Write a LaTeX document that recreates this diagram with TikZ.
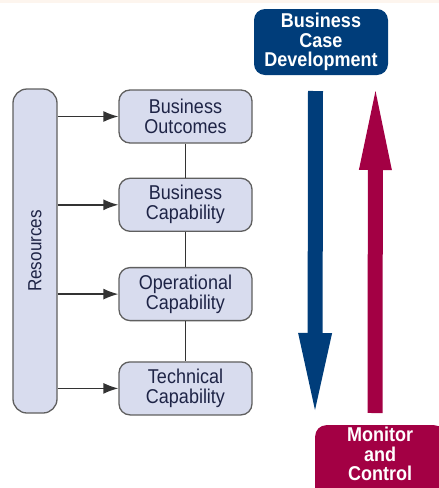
\documentclass[tikz,border=0pt]{standalone}
\usepackage{fontspec}
\setmainfont{Liberation Sans}[FakeStretch=0.9]
\usepackage{tikz}
\usetikzlibrary{arrows.meta,positioning,calc}
\definecolor{casebl}{RGB}{0,61,122}
\definecolor{ctrlred}{RGB}{163,0,68}
\definecolor{boxfill}{RGB}{216,220,238}
\definecolor{boxline}{RGB}{95,95,95}
\definecolor{boxtext}{RGB}{30,36,70}
\definecolor{topband}{RGB}{253,245,238}
\tikzstyle{block}=[draw=boxline,fill=boxfill,rounded corners=11pt,line width=1.3pt,minimum width=133pt,minimum height=53pt,inner sep=2pt,align=center,text=boxtext,font=\fontsize{20}{20}\selectfont]
\tikzstyle{resbox}=[draw=boxline,fill=boxfill,rounded corners=14pt,line width=1.3pt,minimum width=44pt,minimum height=324pt,inner sep=0pt,text=boxtext,font=\fontsize{19}{19}\selectfont]
\tikzstyle{headbox}=[rounded corners=11pt,inner sep=2pt,align=center,text=white,font=\fontsize{20}{19.5}\selectfont\bfseries]

\begin{document}
\begin{tikzpicture}[x=1pt,y=-1pt,feed/.style={line width=1.4pt,draw=black!80,-{Latex[length=15pt,width=11pt]}},link/.style={line width=1.4pt,draw=black!80}]
\useasboundingbox (0,0) rectangle (439,488);
\fill[topband] (0,0) rectangle (439,3);
\node [resbox] (res) at (35,251) {\rotatebox{90}{Resources}};
\node [block] (outcomes) at (185.5,116.5) {Business\\Outcomes};
\node [block,below=34pt of outcomes] (capability) {Business\\Capability};
\node [block,below=35pt of capability] (operational) {Operational\\Capability};
\node [block,below=40pt of operational] (technical) {Technical\\Capability};
\foreach \b in {outcomes,capability,operational,technical}
  \draw [feed] (res.east |- \b.west) -- (\b.west);
\draw [link] (outcomes) -- (capability);
\draw [link] (capability) -- (operational);
\draw [link] (operational) -- (technical);
\node [headbox,fill=casebl,minimum width=134pt,minimum height=66pt] (case) at (321,42) {Business\\Case\\Development};
\node [headbox,fill=ctrlred,minimum width=130pt,text depth=22pt,anchor=north west] (control) at (315,425) {Monitor\\and\\Control};
\coordinate (downtop) at (315.5,91);
\coordinate (downtip) at (315,410);
\coordinate (uptail) at (375,413);
\coordinate (uptip) at (375.5,91);
\draw [line width=15pt,casebl,-{Triangle[length=77pt,width=34pt,line width=0pt]}] (downtop) -- (downtip);
\draw [line width=15pt,ctrlred,-{Triangle[length=79pt,width=33pt,line width=0pt]}] (uptail) -- (uptip);
\end{tikzpicture}
\end{document}
